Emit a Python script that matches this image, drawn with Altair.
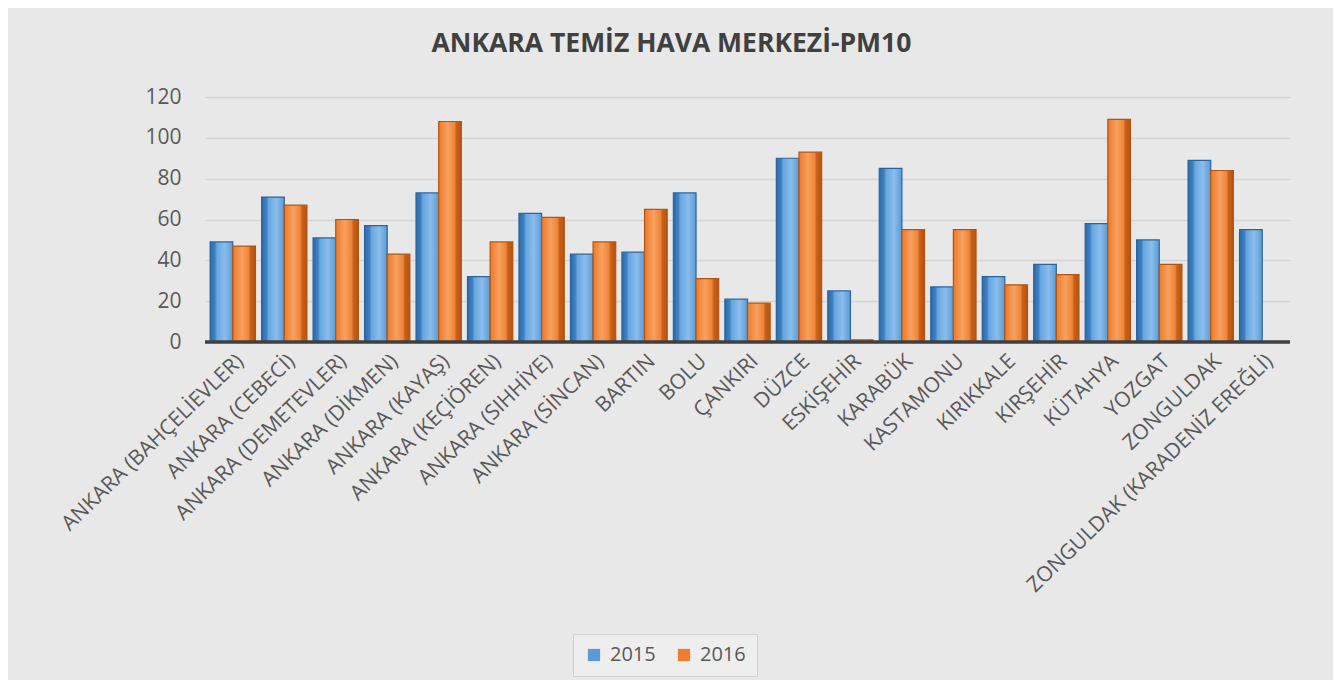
import altair as alt
import pandas as pd

categories = [
    "ANKARA (BAHÇELİEVLER)", "ANKARA (CEBECİ)", "ANKARA (DEMETEVLER)", "ANKARA (DİKMEN)",
    "ANKARA (KAYAŞ)", "ANKARA (KEÇİÖREN)", "ANKARA (SIHHİYE)", "ANKARA (SİNCAN)",
    "BARTIN", "BOLU", "ÇANKIRI", "DÜZCE", "ESKİŞEHİR", "KARABÜK", "KASTAMONU",
    "KIRIKKALE", "KIRŞEHİR", "KÜTAHYA", "YOZGAT", "ZONGULDAK", "ZONGULDAK (KARADENİZ EREĞLİ)",
]
values_2015 = [49, 71, 51, 57, 73, 32, 63, 43, 44, 73, 21, 90, 25, 85, 27, 32, 38, 58, 50, 89, 55]
values_2016 = [47, 67, 60, 43, 108, 49, 61, 49, 65, 31, 19, 93, 1, 55, 55, 28, 33, 109, 38, 84, 0]
years = ["2015", "2016"]

rows = []
for c, a, b in zip(categories, values_2015, values_2016):
    rows.append({"station": c, "year": years[0], "value": a})
    rows.append({"station": c, "year": years[1], "value": b})
df = pd.DataFrame(rows)

FONT = "Open Sans"

blue_grad = alt.LinearGradient(
    gradient="linear", x1=0, x2=1, y1=0, y2=0,
    stops=[alt.GradientStop(offset=0, color="#2c6aa8"),
           alt.GradientStop(offset=0.22, color="#3f82c4"),
           alt.GradientStop(offset=0.3, color="#66a6e0"),
           alt.GradientStop(offset=0.65, color="#8abdec"),
           alt.GradientStop(offset=1, color="#5b9bd5")])
orange_grad = alt.LinearGradient(
    gradient="linear", x1=0, x2=1, y1=0, y2=0,
    stops=[alt.GradientStop(offset=0, color="#ec7a2c"),
           alt.GradientStop(offset=0.4, color="#f7a05e"),
           alt.GradientStop(offset=0.7, color="#ef8538"),
           alt.GradientStop(offset=0.78, color="#c8611b"),
           alt.GradientStop(offset=1, color="#b5540f")])

x_enc = alt.X("station:N", sort=categories, title=None,
              scale=alt.Scale(paddingInner=0.12, paddingOuter=0.1),
              axis=alt.Axis(labelAngle=-44, labelFontSize=21, labelColor="#595959",
                            labelFont=FONT, ticks=False, domain=False, labelPadding=8,
                            labelLimit=600))
xoff = alt.XOffset("year:N", sort=years, scale=alt.Scale(domain=years))
y_enc = alt.Y("value:Q", title=None,
              scale=alt.Scale(domain=[0, 120]),
              axis=alt.Axis(values=[0, 20, 40, 60, 80, 100, 120], labelFontSize=21,
                            labelColor="#595959", labelFont=FONT, ticks=False,
                            domain=False, labelPadding=24, gridColor="#d4d4d4",
                            gridWidth=1.5))

base = alt.Chart(df)

bars_2015 = base.transform_filter(alt.datum.year == years[0]).mark_bar(
    color=blue_grad, stroke="#2a64a0", strokeWidth=1.2
).encode(x=x_enc, xOffset=xoff, y=y_enc)

bars_2016 = base.transform_filter(alt.datum.year == years[1]).mark_bar(
    color=orange_grad, stroke="#b5540f", strokeWidth=1.2
).encode(x=x_enc, xOffset=xoff, y=y_enc)

legend_layer = base.mark_square(opacity=0, size=1).encode(
    x=x_enc, xOffset=xoff, y=y_enc,
    color=alt.Color("year:N", sort=years, title=None,
                    scale=alt.Scale(domain=years, range=["#5B9BD5", "#ED7D31"]),
                    legend=alt.Legend(orient="none", legendX=368, legendY=537,
                                      direction="horizontal", symbolType="square",
                                      symbolSize=150, symbolOpacity=1,
                                      symbolStrokeWidth=1.2,
                                      labelFontSize=20, labelColor="#595959",
                                      labelFont=FONT, strokeColor="#cfcfcf",
                                      padding=11, fillColor="#eeeeee",
                                      columnPadding=18, labelOffset=6)),
)

baseline = alt.Chart(pd.DataFrame({"y": [0]})).mark_rule(
    color="#404040", strokeWidth=3.5
).encode(y="y:Q")

chart = alt.layer(bars_2015, bars_2016, legend_layer, baseline).properties(
    width=1085,
    height=245,
    padding={"left": 197, "top": 89, "right": 43, "bottom": 338},
    autosize=alt.AutoSizeParams(type="none"),
    title=alt.Title("ANKARA TEMİZ HAVA MERKEZİ-PM10", fontSize=26.5, fontWeight="bold",
                    color="#404040", font=FONT, offset=29, anchor="middle", dx=-76),
    background="#e8e8e8",
).configure_view(stroke=None)

chart.save("out.html", embed_options={"renderer": "svg", "actions": False})
